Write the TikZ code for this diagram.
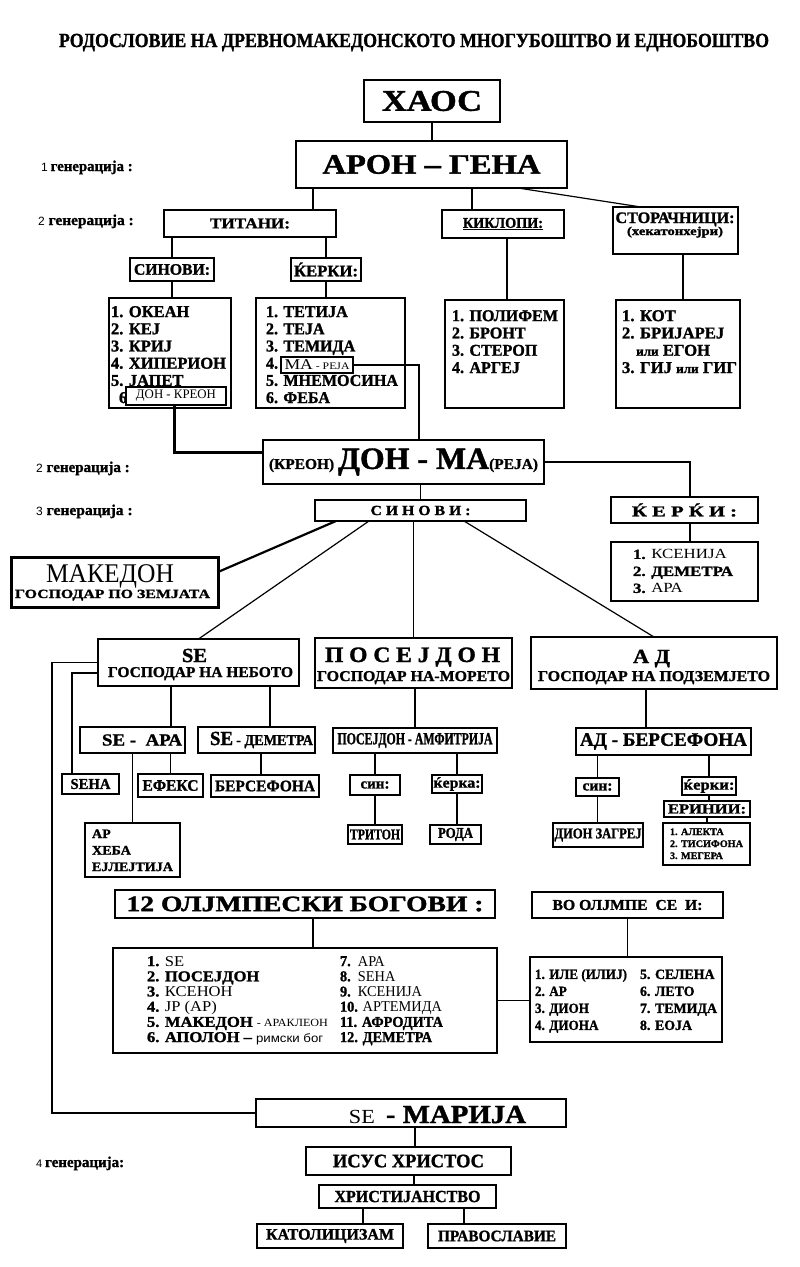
\documentclass[tikz,border=0pt]{standalone}
\usepackage{fontspec}
\setmainfont{Liberation Serif}[BoldFeatures={FakeBold=1.3}]
\newfontfamily\sns{Liberation Sans}
\usepackage{graphicx}
\newcommand\f[1]{\fontsize{#1}{#1}\selectfont}
\newcommand\W[2]{\resizebox{#1}{\height}{#2}}
\newcommand\B[3]{\resizebox{#1}{\height}{\f{#2}\bfseries #3}}
\newcommand\R[3]{\resizebox{#1}{\height}{\f{#2}#3}}
\newcommand\LST[4]{\resizebox{#1}{\height}{\fontsize{#2}{#3}\selectfont\bfseries\begin{tabular}{@{}l@{}}#4\end{tabular}}}
\newcommand\bx[7][]{\node[bx,#1,minimum width={#5pt-#3pt},minimum height={#6pt-#4pt}] (#2) at ({(#3+#5)/2},{(#4+#6)/2}) {#7};}
\begin{document}
\begin{tikzpicture}[x=1pt,y=-1pt,
  bx/.style={draw,line width=1.6pt,inner sep=0pt,outer sep=0pt,fill=white},
  tk/.style={line width=2.6pt},
  tktwo/.style={line width=2.1pt},
  tkthree/.style={line width=3pt},
  tx/.style={inner sep=0pt,outer sep=0pt},
  ln/.style={line width=1.2pt},
  thk/.style={line width=3pt},
  mk/.style={line width=2.2pt}]
\fill[white] (0,0) rectangle (800,1267);
\useasboundingbox (0,0) rectangle (800,1267);
\coordinate (lft) at (52,0);

% title and generation labels
\node[tx,anchor=base] (title) at (414,47) {\B{710pt}{20}{РОДОСЛОВИЕ НА ДРЕВНОМАКЕДОНСКОТО МНОГУБОШТВО И ЕДНОБОШТВО}};
\node[tx,anchor=base west] (g1) at (41,171) {{\sns\f{12}1}\hspace{3pt}\B{82pt}{15}{генерација :}};
\node[tx,anchor=base west] (g2a) at (38,225) {{\sns\f{12}2}\hspace{4pt}\B{85pt}{15}{генерација :}};
\node[tx,anchor=base west] (g2b) at (36,472) {{\sns\f{12}2}\hspace{4pt}\B{83pt}{15}{генерација :}};
\node[tx,anchor=base west] (g3) at (36,515) {{\sns\f{12}3}\hspace{4pt}\B{86pt}{15}{генерација :}};
\node[tx,anchor=base west] (g4) at (36,1167) {{\sns\f{11}4}\hspace{3pt}\B{79pt}{15}{генерација:}};

% top
\bx{xaos}{364}{80}{500}{122}{\B{100pt}{30}{ХАОС}}
\bx{aron}{296}{141}{567}{188}{\B{218pt}{28}{АРОН – ГЕНА}}
\bx{titani}{164}{210}{336}{237}{\B{80pt}{15}{ТИТАНИ:}}
\bx{kiklopi}{442}{210}{564}{238}{\B{80pt}{15}{\underline{КИКЛОПИ:}}}
\bx{storac}{613}{207}{738}{254}{}
\node[tx,anchor=base] (storacA) at (675,223) {\B{119pt}{16}{СТОРАЧНИЦИ:}};
\node[tx,anchor=base] (storacB) at (675,235) {\B{96pt}{12}{(хекатонхејри)}};
\bx{sinovi1}{130}{258}{214}{281}{\B{76pt}{16}{СИНОВИ:}}
\bx[tktwo]{kerki1}{291}{258}{361}{281}{\B{64pt}{16}{ЌЕРКИ:}}
\bx{sinlist}{109}{298}{231}{408}{}
\bx{kerlist}{256}{298}{405}{408}{}
\bx{kiklist}{445}{300}{564}{408}{}
\bx{storlist}{616}{300}{740}{408}{}
\node[tx,anchor=north west] (sinT) at (111,305) {\LST{115pt}{16.5}{17.2}{1. ОКЕАН\\2. КЕЈ\\3. КРИЈ\\4. ХИПЕРИОН\\5. ЈАПЕТ\\\hspace*{8pt}6.}};
\node[tx,anchor=north west] (kerT) at (266,305) {\LST{132pt}{16.5}{17.2}{1. ТЕТИЈА\\2. ТЕЈА\\3. ТЕМИДА\\4.\\5. МНЕМОСИНА\\6. ФЕБА}};
\node[tx,anchor=north west] (kikT) at (452,309) {\LST{106pt}{16.5}{17.3}{1. ПОЛИФЕМ\\2. БРОНТ\\3. СТЕРОП\\4. АРГЕЈ}};
\node[tx,anchor=north west] (storT) at (622,309) {\LST{115pt}{16.5}{17.3}{1. КОТ\\2. БРИЈАРЕЈ\\\hspace*{14pt}{\fontsize{13}{17.3}\selectfont или} ЕГОН\\3. ГИЈ {\fontsize{13}{17.3}\selectfont или} ГИГ}};
\bx[tk]{doncreon}{126}{387}{226}{405}{\R{80pt}{13}{ДОН - КРЕОН}}
\bx[tk]{mareja}{281}{357}{353}{373}{\W{65pt}{\f{15}МА\,\f{10}- РЕЈА}}

% generation 2/3
\bx{donma}{263}{440}{544}{484}{\W{269pt}{\bfseries\f{15}(КРЕОН)\ \f{31}ДОН - МА\f{15}(РЕЈА)}}
\bx{sinovi2}{315}{500}{526}{521}{\B{100pt}{14}{С И Н О В И :}}
\bx{kerki2}{611}{497}{758}{523}{\B{105pt}{15}{Ќ Е Р Ќ И :}}
\bx{kerlist2}{611}{542}{758}{601}{}
\node[tx,anchor=north west] (ker2T) at (633,547) {\LST{100pt}{14}{17}{1. \mdseries КСЕНИЈА\\2. ДЕМЕТРА\\3. \mdseries АРА}};
\bx[tkthree]{makedon}{11}{557}{218}{607}{}
\node[tx,anchor=base] (makA) at (110,582) {\R{128pt}{27}{МАКЕДОН}};
\node[tx,anchor=base] (makB) at (112.5,598) {\B{195pt}{12.5}{ГОСПОДАР ПО ЗЕМЈАТА}};

% three brothers
\bx{se}{98}{639}{299}{686}{}
\node[tx,anchor=base] (seA) at (194.5,662) {\B{25pt}{20}{SE}};
\node[tx,anchor=base] (seB) at (200.5,677) {\B{185pt}{15}{ГОСПОДАР НА НЕБОТО}};
\bx{poseidon}{315}{638}{512}{688}{}
\node[tx,anchor=base] (posA) at (412.5,662) {\B{175pt}{22}{П О С Е Ј Д О Н}};
\node[tx,anchor=base] (posB) at (413.5,681) {\B{193pt}{15}{ГОСПОДАР НА-МОРЕТО}};
\bx{ad}{531}{637}{777}{689}{}
\node[tx,anchor=base] (adA) at (651.5,663) {\B{37pt}{20}{А Д}};
\node[tx,anchor=base] (adB) at (654,681) {\B{232pt}{15}{ГОСПОДАР НА ПОДЗЕМЈЕТО}};

% SE branch
\bx{seara}{80}{727}{185}{753}{\hspace*{19pt}\B{80pt}{17}{SE -\ \ АРА}}
\bx{sedem}{198}{727}{315}{753}{\hspace*{10pt}\W{103pt}{\bfseries\f{20}SE\,\f{15}- ДЕМЕТРА}}
\bx{sena}{62}{774}{119}{794}{\B{40pt}{15}{SЕНА}}
\bx[tk]{efeks}{138}{774}{203}{797}{\B{56pt}{16}{ЕФЕКС}}
\bx[tk]{bersef}{211}{775}{319}{797}{\B{100pt}{16}{БЕРСЕФОНА}}
\bx{arlist}{85}{823}{180}{877}{}
\node[tx,anchor=north west] (arT) at (92,826.5) {\LST{81pt}{13}{16.5}{АР\\ХЕБА\\ЕЈЛЕЈТИЈА}};

% Poseidon branch
\bx{posamf}{333}{728}{497}{753}{\B{155pt}{17}{ПОСЕЈДОН - АМФИТРИЈА}}
\bx{posin}{350}{775}{400}{795}{\B{29pt}{15}{син:}}
\bx{poker}{432}{775}{482}{793}{\B{47pt}{15}{ќерка:}}
\bx{triton}{348}{825}{402}{844}{\B{50pt}{15}{ТРИТОН}}
\bx{roda}{430}{825}{481}{844}{\B{35pt}{15}{РОДА}}

% Ad branch
\bx[tk]{adbers}{576}{728}{751}{755}{\B{167pt}{19}{АД - БЕРСЕФОНА}}
\bx{adsin}{576}{778}{619}{796}{\B{30pt}{15}{син:}}
\bx{adker}{682}{777}{736}{795}{\B{51pt}{15}{ќерки:}}
\bx{erinii}{664}{801}{750}{817}{\B{78pt}{14}{ЕРИНИИ:}}
\bx{erinlist}{663}{823}{750}{865}{}
\node[tx,anchor=north west] (erT) at (670,826.6) {\LST{73pt}{10}{12}{1. АЛЕКТА\\2. ТИСИФОНА\\3. МЕГЕРА}};
\bx{dion}{553}{823}{643}{847}{\B{87pt}{15}{ДИОН ЗАГРЕЈ}}

% Olympians
\bx{olymp12}{115}{890}{495}{918}{\B{357pt}{22}{12 ОЛЈМПЕСКИ БОГОВИ :}}
\bx{olylist}{113}{948}{497}{1053}{}
\node[tx,anchor=north west] (olyA) at (147,955.4) {\LST{181pt}{15}{15.2}{1. \mdseries SE\\2. ПОСЕЈДОН\\3. \mdseries КСЕНОН\\4. \mdseries ЈР (АР)\\5. МАКЕДОН {\mdseries\fontsize{11}{15.2}\selectfont - АРАКЛЕОН}\\6. АПОЛОН – {\sns\mdseries\fontsize{12}{15.2}\selectfont римски бог}}};
\node[tx,anchor=north west] (olyB) at (340,955.4) {\LST{103pt}{15}{15.2}{7.\ \ \mdseries АРА\\8.\ \ \mdseries SЕНА\\9.\ \ \mdseries КСЕНИЈА\\10. \mdseries АРТЕМИДА\\11. АФРОДИТА\\12. ДЕМЕТРА}};
\bx{vo}{532}{892}{723}{918}{\B{150pt}{15}{ВО ОЛЈМПЕ\ \ СЕ\ \ И:}}
\bx{volist}{530}{957}{722}{1042}{}
\node[tx,anchor=north west] (voA) at (535,967) {\LST{92pt}{14}{17}{1. ИЛЕ (ИЛИЈ)\\2. АР\\3. ДИОН\\4. ДИОНА}};
\node[tx,anchor=north west] (voB) at (640,967) {\LST{77pt}{14}{17}{5. СЕЛЕНА\\6. ЛЕТО\\7. ТЕМИДА\\8. ЕОЈА}};

% bottom
\bx{semarija}{256}{1099}{566}{1127}{}
\node[tx,anchor=base] (smT) at (437.5,1123) {\W{177pt}{\f{20}SE\ \ \f{26}\bfseries- МАРИЈА}};
\bx{isus}{306}{1147}{511}{1175}{\B{151pt}{19}{ИСУС ХРИСТОС}}
\bx{xrist}{319}{1185}{496}{1208}{\B{146pt}{17}{ХРИСТИЈАНСТВО}}
\bx{katol}{257}{1224}{403}{1248}{\B{128pt}{16}{КАТОЛИЦИЗАМ}}
\bx{pravo}{428}{1224}{566}{1248}{\B{118pt}{16}{ПРАВОСЛАВИЕ}}

% connectors
\draw[ln] (xaos.south) -- (xaos.south |- aron.north);
\draw[ln] ([xshift=-118.5pt]aron.south) -- ([xshift=-118.5pt]aron.south |- titani.north);
\draw[ln] ([xshift=-31pt]kiklopi.north) -- ([xshift=-31pt]kiklopi.north |- aron.south);
\draw[ln] ([xshift=86.5pt]aron.south) -- ([xshift=-34.5pt]storac.north);
\draw[ln] (titani.south -| sinovi1.north) -- (sinovi1.north);
\draw[ln] (titani.south -| kerki1.north) -- (kerki1.north);
\draw[ln] (sinovi1.south) -- (sinovi1.south |- sinlist.north);
\draw[ln] (kerki1.south) -- (kerki1.south |- kerlist.north);
\draw[ln] ([xshift=4pt]kiklopi.south) -- ([xshift=4pt]kiklopi.south |- kiklist.north);
\draw[ln] ([xshift=7.5pt]storac.south) -- ([xshift=7.5pt]storac.south |- storlist.north);
\draw[thk] ([xshift=-2pt]doncreon.south) |- ([yshift=10pt]donma.west);
\draw[ln] (mareja.east) -| ([xshift=15.5pt]donma.north);
\draw[ln] (donma.east) -| ([xshift=5.5pt]kerki2.north);
\draw[ln] ([xshift=5.5pt]kerki2.south) -- ([xshift=5.5pt]kerki2.south |- kerlist2.north);
\draw[ln] (donma.south -| sinovi2.north) -- (sinovi2.north);
\draw[mk] ([yshift=10pt]makedon.east) -- ([xshift=21pt]sinovi2.south west);
\draw[ln] ([xshift=-51.5pt]sinovi2.south) -- (se.north);
\draw[ln] (sinovi2.south -| poseidon.north) -- (poseidon.north);
\draw[ln] ([xshift=43.5pt]sinovi2.south) -- (ad.north);
\draw[ln] (se.west) -| (lft |- semarija.west) -- (semarija.west);
\draw[ln] ([yshift=-10.5pt]se.west) -| ([xshift=-18.5pt]sena.north);
\draw[ln] ([xshift=38.5pt]seara.north) -- ([xshift=38.5pt]seara.north |- se.south);
\draw[ln] ([xshift=13.5pt]sedem.north) -- ([xshift=13.5pt]sedem.north |- se.south);
\draw[ln] (efeks.north) -- (efeks.north |- seara.south);
\draw[ln] ([xshift=-4pt]bersef.north) -- ([xshift=-4pt]bersef.north |- sedem.south);
\draw[ln] (arlist.north) -- (arlist.north |- seara.south);
\draw[ln] (posamf.north) -- (posamf.north |- poseidon.south);
\draw[ln] (posin.north) -- (posin.north |- posamf.south);
\draw[ln] (poker.north) -- (poker.north |- posamf.south);
\draw[ln] (posin.south) -- (posin.south |- triton.north);
\draw[ln] (poker.south) -- (poker.south |- roda.north);
\draw[ln] ([xshift=-17.5pt]adbers.north) -- ([xshift=-17.5pt]adbers.north |- ad.south);
\draw[ln] (adsin.north) -- (adsin.north |- adbers.south);
\draw[ln] (adsin.south) -- (adsin.south |- dion.north);
\draw[ln] (adker.north) -- (adker.north |- adbers.south);
\draw[ln] (adker.south) -- (adker.south |- erinii.north);
\draw[ln] (erinii.south) -- (erinii.south |- erinlist.north);
\draw[ln] ([xshift=8pt]olymp12.south) -- ([xshift=8pt]olymp12.south |- olylist.north);
\draw[ln] (vo.south) -- (vo.south |- volist.north);
\draw[ln] (olylist.east) -- (olylist.east -| volist.west);
\draw[ln] ([xshift=4pt]semarija.south) -- ([xshift=4pt]semarija.south |- isus.north);
\draw[ln] ([xshift=5.5pt]isus.south) -- ([xshift=5.5pt]isus.south |- xrist.north);
\draw[ln] ([xshift=33pt]katol.north) -- ([xshift=33pt]katol.north |- xrist.south);
\draw[ln] ([xshift=-33pt]pravo.north) -- ([xshift=-33pt]pravo.north |- xrist.south);
\end{tikzpicture}
\end{document}
